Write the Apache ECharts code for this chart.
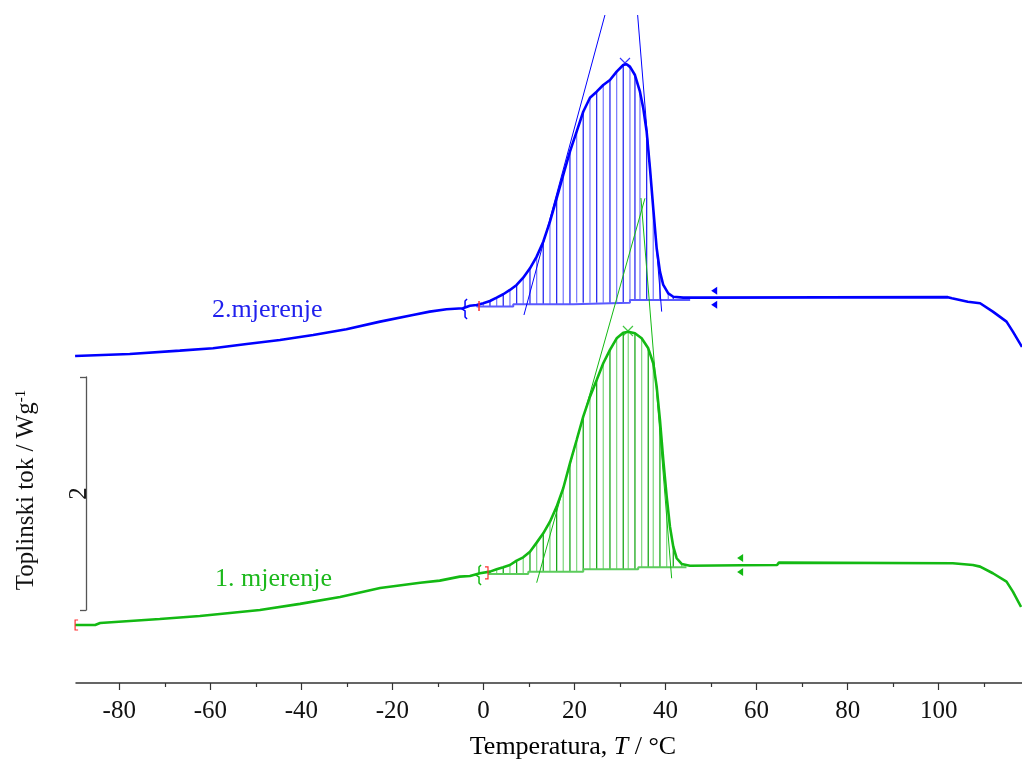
<!DOCTYPE html>
<html><head><meta charset="utf-8">
<script src="https://cdn.jsdelivr.net/npm/echarts@6/dist/echarts.min.js"></script>
<style>html,body{margin:0;padding:0;background:#fff}#c{width:1022px;height:764px}</style>
</head><body><div id="c"></div>
<script>
// ---- data ----
const xTickLabels = [-80,-60,-40,-20,0,20,40,60,80,100];
const xMinorTicks = [-90,-70,-50,-30,-10,10,30,50,70,90,110];

// 2. mjerenje (blue)
const blueT = [-89.7,-77.7,-66.7,-59.4,-52.0,-44.7,-37.4,-30.1,-22.7,-15.5,-11.8,-8.1,-4.5,-2.97,-1.49,-0.04,1.43,2.90,4.35,5.82,7.29,8.74,10.22,11.69,13.14,14.61,16.08,17.53,19.00,20.47,21.92,23.40,24.87,26.32,27.79,29.26,30.71,31.46,32.18,33.28,34.38,35.11,35.85,36.58,37.30,38.05,38.77,39.50,40.60,41.70,43.89,47.56,75,102.0,102.9,106.4,109.1,111.9,114.9,116.3,118.3];
const blueV = [2.180,2.197,2.226,2.246,2.283,2.318,2.361,2.409,2.475,2.532,2.561,2.581,2.590,2.612,2.618,2.633,2.652,2.681,2.710,2.747,2.790,2.852,2.933,3.033,3.161,3.333,3.534,3.734,3.934,4.106,4.277,4.397,4.449,4.506,4.549,4.621,4.678,4.684,4.664,4.592,4.449,4.306,4.106,3.791,3.448,3.105,2.904,2.790,2.718,2.689,2.681,2.681,2.683,2.685,2.676,2.646,2.633,2.561,2.475,2.389,2.258];
const blueHatchT = [-1.49,-0.04,1.43,2.90,4.35,5.82,7.29,8.74,10.22,11.69,13.14,14.61,16.08,17.53,19.00,20.47,21.92,23.40,24.87,26.32,27.79,29.26,30.71,32.18,33.28,34.38,35.85,37.30,38.77,40.60,41.70,43.89];
const blueBase = [[-1.49,2.604],[6.55,2.624],[19.73,2.638],[32.18,2.661],[45.4,2.661]];
const blueTanL = [[8.90,2.532],[26.69,5.107]];
const blueTanR = [[33.87,5.107],[39.15,2.561]];
const bluePeak = [31.09,4.695];
const blueMarks = [[-4.04,2.584,0],[50.9,2.681,1],[-0.97,2.61,2]];

// 1. mjerenje (green)
const greenT = [-89.7,-85.3,-84.2,-71.1,-62.3,-49.1,-40.3,-31.5,-22.7,-13.9,-9.6,-5.2,-2.97,-0.77,1.43,2.90,4.35,5.82,7.29,8.74,10.22,11.69,13.14,14.61,16.08,17.53,19.00,20.47,21.92,23.40,24.87,26.32,27.79,29.26,30.71,31.81,33.28,34.75,36.20,37.30,38.05,38.77,39.50,40.25,40.97,41.70,42.44,43.54,45.36,56.6,64.5,64.9,103.1,107.5,109.1,111.9,114.9,116.3,118.1];
const greenV = [-0.129,-0.129,-0.112,-0.077,-0.052,0.0,0.052,0.112,0.189,0.234,0.252,0.286,0.292,0.315,0.329,0.349,0.367,0.386,0.423,0.452,0.500,0.578,0.658,0.758,0.887,1.045,1.259,1.459,1.659,1.831,1.974,2.118,2.232,2.332,2.380,2.389,2.375,2.332,2.246,2.118,1.917,1.631,1.288,0.973,0.715,0.543,0.444,0.395,0.380,0.384,0.386,0.406,0.401,0.386,0.372,0.315,0.243,0.157,0.026];
const greenHatchT = [1.43,2.90,4.35,5.82,7.29,8.74,10.22,11.69,13.14,14.61,16.08,17.53,19.00,20.47,21.92,23.40,24.87,26.32,27.79,29.26,30.71,31.81,33.28,34.75,36.20,37.30,38.77,40.25,41.70,43.54];
const greenBase = [[1.0,0.309],[9.84,0.329],[21.92,0.349],[34.0,0.367],[44.6,0.367]];
const greenTanL = [[11.69,0.234],[35.48,3.534]];
const greenTanR = [[34.60,3.536],[41.34,0.272]];
const greenPeak = [31.74,2.395];
const greenMarks = [[-0.97,0.30,0],[56.6,0.386,1],[1.0,0.318,4],[-89.7,-0.129,3]];

// ---- build ----
const FONT = '"Liberation Serif","Times New Roman",serif';
const BLUE = '#0000ff', GREEN = '#13b913', RED = '#ff3030';
const zip = (a,b)=>a.map((t,i)=>[t,b[i]]);
function baseAt(base,t){ let v=base[0][1]; for(const s of base){ if(s[0]<=t+1e-9) v=s[1]; } return v; }
function hatchData(T,V,H,base){ return H.map(t=>{ const i=T.findIndex(x=>Math.abs(x-t)<1e-6); return [t,V[i],baseAt(base,t)]; }); }

function curve(T,V,color){ return {type:'line',data:zip(T,V),symbol:'none',lineStyle:{color,width:2.6},z:5,silent:true}; }
function thin(d,color){ return {type:'line',data:d,symbol:'none',lineStyle:{color,width:1},z:4,silent:true}; }
function baseLine(b,color){ return {type:'line',data:b,step:'end',symbol:'none',lineStyle:{color,width:2},z:3,silent:true}; }
function hatch(d,cA,cB){ return {type:'custom',data:d,z:2,silent:true,renderItem:(params,api)=>{
  const a=api.coord([api.value(0),api.value(1)]), b=api.coord([api.value(0),api.value(2)]);
  return {type:'line',shape:{x1:a[0],y1:a[1],x2:b[0],y2:b[1]},style:{stroke:params.dataIndex%2?cB:cA,lineWidth:1.3}};
}}; }
function peak(p,color){ return {type:'scatter',data:[p],symbol:'path://M0,0L10,10M10,0L0,10',symbolSize:10,
  itemStyle:{color:'transparent',borderColor:color,borderWidth:1.2},z:6,silent:true}; }
function marks(d,color){ return {type:'custom',data:d,z:7,silent:true,clip:false,renderItem:(params,api)=>{
  const p=api.coord([api.value(0),api.value(1)]), k=api.value(2), x=p[0], y=p[1];
  if(k===0) return {type:'polyline',shape:{points:[[x+2,y-10],[x,y-8],[x,y-2],[x-3,y],[x,y+2],[x,y+8],[x+2,y+10]]},style:{stroke:color,fill:null,lineWidth:1.5}};
  if(k===1) return {type:'group',children:[
    {type:'polygon',shape:{points:[[x-4,y-7],[x+2,y-11],[x+2,y-3]]},style:{fill:color}},
    {type:'polygon',shape:{points:[[x-4,y+7],[x+2,y+3],[x+2,y+11]]},style:{fill:color}}]};
  if(k===2) return {type:'line',shape:{x1:x,y1:y-5,x2:x,y2:y+5},style:{stroke:RED,lineWidth:1.5}};
  if(k===3) return {type:'polyline',shape:{points:[[x+3,y-5],[x,y-5],[x,y+5],[x+3,y+5]]},style:{stroke:RED,fill:null,lineWidth:1.2}};
  return {type:'polyline',shape:{points:[[x-3,y-6],[x,y-6],[x,y+6],[x-3,y+6]]},style:{stroke:RED,fill:null,lineWidth:1.2}};
}}; }

const chart = echarts.init(document.getElementById('c'), null, {renderer:'canvas'});
chart.setOption({
  animation:false,
  grid:[{left:76,right:0,top:0,bottom:81},{left:86,top:377,height:233,width:10}],
  xAxis:[
    {type:'value',gridIndex:0,min:-89.5,max:118.3,position:'bottom',
     axisLine:{onZero:false,lineStyle:{color:'#333',width:1.5}},
     axisTick:{customValues:xTickLabels,length:7,lineStyle:{color:'#333',width:1.2}},
     axisLabel:{customValues:xTickLabels,fontFamily:FONT,fontSize:25,color:'#111',margin:16},
     splitLine:{show:false}},
    {type:'value',gridIndex:0,min:-89.5,max:118.3,position:'bottom',offset:0,
     axisLine:{show:false,onZero:false},
     axisTick:{customValues:xMinorTicks,length:4,lineStyle:{color:'#333',width:1.2}},
     axisLabel:{show:false},splitLine:{show:false}},
    {type:'value',gridIndex:1,show:false}
  ],
  yAxis:[
    {type:'value',gridIndex:0,min:-0.627,max:5.236,show:false},
    {type:'value',gridIndex:1,min:0,max:2,interval:2,position:'left',
     axisLine:{show:true,onZero:false,lineStyle:{color:'#555',width:1.3}},
     axisTick:{show:true,length:6,lineStyle:{color:'#555',width:1.3}},
     axisLabel:{show:false},splitLine:{show:false},
     name:'2',nameLocation:'middle',nameRotate:90,nameGap:-6,
     nameTextStyle:{fontFamily:FONT,fontSize:25,color:'#111'}}
  ],
  series:[
    hatch(hatchData(blueT,blueV,blueHatchT,blueBase),'#2a2af0','#7f7fff'),
    baseLine(blueBase,'#5a5aff'),
    curve(blueT,blueV,BLUE),
    thin(blueTanL,BLUE), thin(blueTanR,BLUE),
    peak(bluePeak,BLUE),
    marks(blueMarks,BLUE),
    hatch(hatchData(greenT,greenV,greenHatchT,greenBase),'#1aa81a','#85da85'),
    baseLine(greenBase,'#5ccc5c'),
    curve(greenT,greenV,GREEN),
    thin(greenTanL,GREEN), thin(greenTanR,GREEN),
    peak(greenPeak,GREEN),
    marks(greenMarks,GREEN)
  ],
  graphic:[
    {type:'text',left:212,top:297,style:{text:'2.mjerenje',font:'26px '+FONT,fill:'#2020ee'}},
    {type:'text',left:215,top:566,style:{text:'1. mjerenje',font:'26px '+FONT,fill:'#1cb81c'}},
    {type:'text',x:26,y:490,rotation:Math.PI/2,style:{
      text:'{a|Toplinski tok / Wg}{s|-1}',align:'center',verticalAlign:'middle',
      rich:{a:{fontFamily:FONT,fontSize:25,fill:'#111',color:'#111'},s:{fontFamily:FONT,fontSize:15,color:'#111',verticalAlign:'top',padding:[0,0,10,0]}}}},
    {type:'text',x:573,y:747,style:{
      text:'{a|Temperatura, }{b|T}{a| / °C}',align:'center',verticalAlign:'middle',
      rich:{a:{fontFamily:FONT,fontSize:26,color:'#111'},b:{fontFamily:FONT,fontSize:26,fontStyle:'italic',color:'#111'}}}}
  ]
});
</script></body></html>
